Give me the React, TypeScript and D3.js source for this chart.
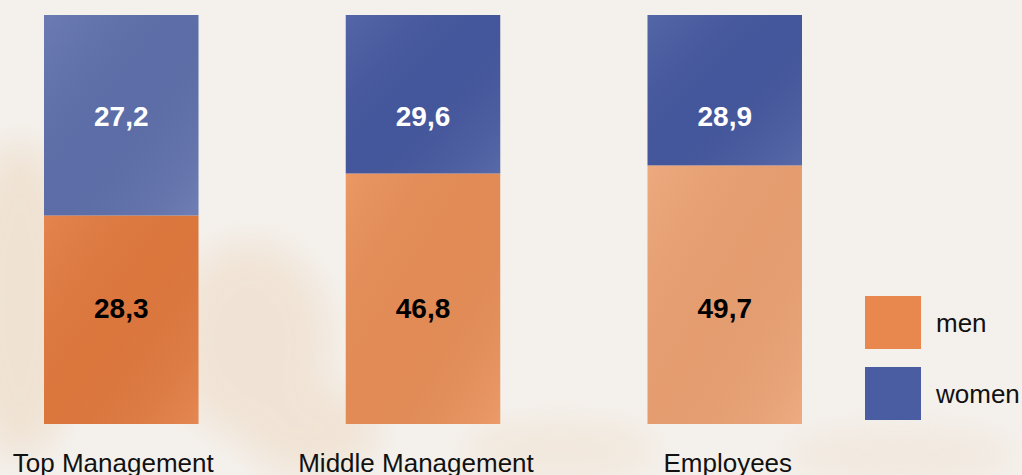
import React from "react";
import * as d3 from "d3";

const categories = ["Top Management", "Middle Management", "Employees"];
const men = [28.3, 46.8, 49.7];
const women = [27.2, 29.6, 28.9];
const seriesNames = ["men", "women"];
const labelFmt = (v: number) => v.toFixed(1).replace(".", ",");

const W = 1022;
const H = 475;

export default function App() {
  const xb = d3.scaleBand<string>().domain(categories).range([44, 802]).paddingInner(0.488).paddingOuter(0);
  const y = d3.scaleLinear().domain([0, 1]).range([424, 15]);
  const rows = categories.map((c, i) => ({ cat: c, men: men[i], women: women[i] }));
  const stacked = d3.stack<any>().keys(seriesNames).offset(d3.stackOffsetExpand)(rows);
  const menShades = ["#e27a3f", "#e98f58", "#eca273"];
  const womenShades = ["#5f70ac", "#4659a0", "#4659a0"];
  const colors: Record<string, string> = { men: "#e8884e", women: "#4a5ca2" };
  const labelY: Record<string, number> = { men: 318, women: 126 };
  const labelColor: Record<string, string> = { men: "#000", women: "#fff" };
  const labelDx = [-8, -7, 3];
  return (
    <svg width={W} height={H} style={{ position: "absolute", left: 0, top: 0 }} fontFamily="'Liberation Sans', Arial, sans-serif">
      <defs>
        <filter id="blur" x="-50%" y="-50%" width="200%" height="200%">
          <feGaussianBlur stdDeviation="18" />
        </filter>
        <linearGradient id="shade" x1="0" y1="0" x2="1" y2="1">
          <stop offset="0" stopColor="#fff" stopOpacity="0.08" />
          <stop offset="0.5" stopColor="#000" stopOpacity="0.03" />
          <stop offset="1" stopColor="#fff" stopOpacity="0.1" />
        </linearGradient>
      </defs>
      <rect width={W} height={H} fill="#f4f1ed" />
      <g filter="url(#blur)" opacity="0.55">
        <ellipse cx={20} cy={300} rx={60} ry={160} fill="#ecd7be" />
        <ellipse cx={250} cy={340} rx={80} ry={100} fill="#eed9c2" />
        <ellipse cx={310} cy={430} rx={70} ry={45} fill="#eed9c2" />
        <ellipse cx={560} cy={450} rx={100} ry={30} fill="#f0e0ce" />
        <ellipse cx={900} cy={455} rx={120} ry={30} fill="#f0e2d4" />
      </g>
      {stacked.map((s) =>
        s.map((d, i) => (
          <g key={s.key + i}>
            <rect
              x={xb(categories[i])}
              width={xb.bandwidth()}
              y={y(d[1])}
              height={y(d[0]) - y(d[1])}
              fill={s.key === "men" ? menShades[i] : womenShades[i]}
            />
            <rect
              x={xb(categories[i])}
              width={xb.bandwidth()}
              y={y(d[1])}
              height={y(d[0]) - y(d[1])}
              fill="url(#shade)"
            />
            <text
              x={(xb(categories[i]) as number) + xb.bandwidth() / 2}
              y={labelY[s.key]}
              textAnchor="middle"
              fontSize={28}
              fontWeight="bold"
              fill={labelColor[s.key]}
            >
              {labelFmt((d.data as any)[s.key])}
            </text>
          </g>
        ))
      )}
      {categories.map((c, i) => (
        <text key={c} x={(xb(c) as number) + xb.bandwidth() / 2 + labelDx[i]} y={472} textAnchor="middle" fontSize={26} fill="#111">
          {c}
        </text>
      ))}
      {seriesNames.map((n, i) => (
        <g key={n} transform={`translate(865,${296 + i * 71})`}>
          <rect width={56} height={53} fill={colors[n]} />
          <text x={71} y={36} fontSize={26} fill="#111">
            {n}
          </text>
        </g>
      ))}
    </svg>
  );
}
